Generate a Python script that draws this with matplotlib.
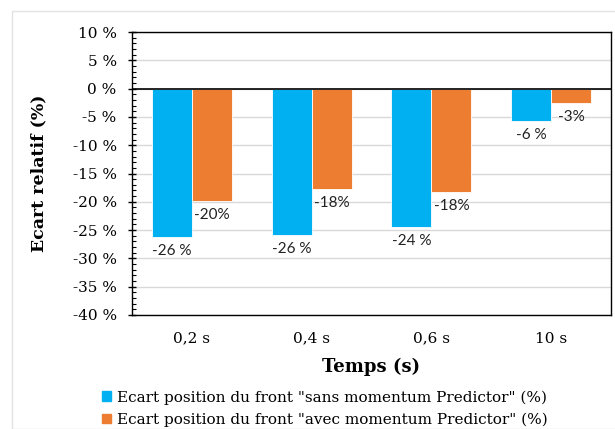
import matplotlib
matplotlib.use("Agg")
import matplotlib.pyplot as plt
from matplotlib.patches import Rectangle
from matplotlib.ticker import MultipleLocator, FuncFormatter
import numpy as np

categories = ["0,2 s", "0,4 s", "0,6 s", "10 s"]
sans_predictor = [-26.2, -25.9, -24.4, -5.8]
avec_predictor = [-19.8, -17.7, -18.2, -2.6]
series_names = ['Ecart position du front "sans momentum Predictor" (%)',
                'Ecart position du front "avec momentum Predictor" (%)']
blue = "#00B0F0"
orange = "#ED7D31"

serif = ["DejaVu Serif"]
sans = ["Lato", "DejaVu Sans"]

W, H = 615, 429
fig = plt.figure(figsize=(W / 100, H / 100), dpi=100)
fig.patch.set_facecolor("white")

# light chart-area border
fig.add_artist(Rectangle((12 / W, 0), 1.2, 1 - 11 / H, transform=fig.transFigure,
                         fill=False, edgecolor="#e3e3e3", linewidth=1.0))

left, right, top, bottom = 132, 611, 32, 315
ax = fig.add_axes([left / W, 1 - bottom / H, (right - left) / W, (bottom - top) / H])

x = np.arange(len(categories))
bw = 1 / 3
b1 = ax.bar(x - bw / 2, sans_predictor, bw, color=blue, edgecolor="white", linewidth=0.6, zorder=3)
b2 = ax.bar(x + bw / 2, avec_predictor, bw, color=orange, edgecolor="white", linewidth=0.6, zorder=3)

for rect, v in zip(b1, sans_predictor):
    ax.annotate(f"{round(v):d} %", (rect.get_x() + rect.get_width() / 2, v),
                xytext=(0, -5), textcoords="offset points", ha="center", va="top",
                fontsize=11, family=sans, color="#222222")
for rect, v in zip(b2, avec_predictor):
    ax.annotate(f"{round(v):d}%", (rect.get_x() + rect.get_width() / 2, v),
                xytext=(0, -5), textcoords="offset points", ha="center", va="top",
                fontsize=11, family=sans, color="#222222")

ax.set_xlim(-0.5, len(categories) - 0.5)
ax.set_ylim(-40, 10)
ax.yaxis.set_major_locator(MultipleLocator(5))
ax.yaxis.set_minor_locator(MultipleLocator(1))
ax.yaxis.set_major_formatter(FuncFormatter(lambda v, p: f"{int(round(v))} %"))
ax.grid(axis="y", which="major", color="#d9d9d9", linewidth=1.0, zorder=0)
ax.axhline(0, color="black", linewidth=1.2, zorder=4)

ax.set_xticks(x)
ax.set_xticklabels(categories, family=serif, fontsize=11)
ax.tick_params(axis="x", length=0, pad=12)
ax.tick_params(axis="y", which="major", direction="inout", length=6, width=1, labelsize=11, pad=8)
ax.tick_params(axis="y", which="minor", direction="in", length=3, width=0.8)
for lab in ax.get_yticklabels():
    lab.set_family(serif)

for s in ax.spines.values():
    s.set_color("black")
    s.set_linewidth(1.0)

ax.set_xlabel("Temps (s)", family=serif, fontsize=13, fontweight="bold", labelpad=9)
ax.set_ylabel("Ecart relatif (%)", family=serif, fontsize=12.5, fontweight="bold", labelpad=18)

handles = [Rectangle((0, 0), 1, 1, color=blue), Rectangle((0, 0), 1, 1, color=orange)]
fig.legend(handles, series_names, loc="upper left", bbox_to_anchor=(96 / W, 1 - 384 / H),
           frameon=False, prop={"family": serif, "size": 11}, handlelength=0.55,
           handleheight=0.55, handletextpad=0.4, labelspacing=0.55, borderaxespad=0)

fig.savefig("out.png", dpi=100, facecolor="white")
